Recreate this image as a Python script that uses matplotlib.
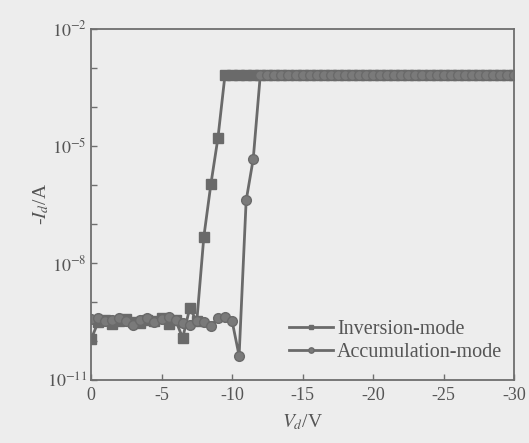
import math
import matplotlib
matplotlib.use('Agg')
import matplotlib.pyplot as plt
from matplotlib.ticker import LogLocator, FixedLocator, FuncFormatter

### drain voltage sweep (V), 0 to -30 in 0.5 V steps
vd = [0.0, -0.5, -1.0, -1.5, -2.0, -2.5, -3.0, -3.5, -4.0, -4.5,
      -5.0, -5.5, -6.0, -6.5, -7.0, -7.5, -8.0, -8.5, -9.0, -9.5,
      -10.0, -10.5, -11.0, -11.5, -12.0, -12.5, -13.0, -13.5, -14.0, -14.5,
      -15.0, -15.5, -16.0, -16.5, -17.0, -17.5, -18.0, -18.5, -19.0, -19.5,
      -20.0, -20.5, -21.0, -21.5, -22.0, -22.5, -23.0, -23.5, -24.0, -24.5,
      -25.0, -25.5, -26.0, -26.5, -27.0, -27.5, -28.0, -28.5, -29.0, -29.5,
      -30.0]

### -Id (A), inversion-mode device
id_inv = [1.1e-10, 3.0e-10, 3.4e-10, 2.8e-10, 3.3e-10, 3.6e-10, 3.1e-10, 2.9e-10, 3.5e-10, 3.2e-10,
          3.8e-10, 2.7e-10, 3.4e-10, 1.2e-10, 7.0e-10, 3.2e-10, 4.7e-8, 1.05e-6, 1.6e-5, 6.6e-4,
          6.6e-4, 6.6e-4, 6.6e-4, 6.6e-4, 6.6e-4, 6.6e-4, 6.6e-4, 6.6e-4, 6.6e-4, 6.6e-4,
          6.6e-4, 6.6e-4, 6.6e-4, 6.6e-4, 6.6e-4, 6.6e-4, 6.6e-4, 6.6e-4, 6.6e-4, 6.6e-4,
          6.6e-4, 6.6e-4, 6.6e-4, 6.6e-4, 6.6e-4, 6.6e-4, 6.6e-4, 6.6e-4, 6.6e-4, 6.6e-4,
          6.6e-4, 6.6e-4, 6.6e-4, 6.6e-4, 6.6e-4, 6.6e-4, 6.6e-4, 6.6e-4, 6.6e-4, 6.6e-4,
          6.6e-4]

### -Id (A), accumulation-mode device
id_acc = [3.6e-10, 3.9e-10, 3.2e-10, 3.5e-10, 4.0e-10, 3.3e-10, 2.6e-10, 3.4e-10, 3.8e-10, 3.0e-10,
          3.6e-10, 4.1e-10, 3.5e-10, 2.9e-10, 2.6e-10, 3.3e-10, 3.0e-10, 2.4e-10, 3.9e-10, 4.2e-10,
          3.3e-10, 4.2e-11, 4.0e-7, 4.6e-6, 6.4e-4, 6.4e-4, 6.4e-4, 6.4e-4, 6.4e-4, 6.4e-4,
          6.4e-4, 6.4e-4, 6.4e-4, 6.4e-4, 6.4e-4, 6.4e-4, 6.4e-4, 6.4e-4, 6.4e-4, 6.4e-4,
          6.4e-4, 6.4e-4, 6.4e-4, 6.4e-4, 6.4e-4, 6.4e-4, 6.4e-4, 6.4e-4, 6.4e-4, 6.4e-4,
          6.4e-4, 6.4e-4, 6.4e-4, 6.4e-4, 6.4e-4, 6.4e-4, 6.4e-4, 6.4e-4, 6.4e-4, 6.4e-4,
          6.4e-4]

xtick_vals = [0, -5, -10, -15, -20, -25, -30]
ylabel_exps = [-2, -5, -8, -11]

plt.rcParams['font.family'] = 'Liberation Serif'
plt.rcParams['mathtext.fontset'] = 'stix'

bg = '#ededed'
gray = '#6a6a6a'
axc = '#6e6e6e'
txt = '#555555'


def ylab(v, pos):
    e = int(round(math.log10(v)))
    if e in ylabel_exps:
        return r'$10^{%d}$' % e
    return ''


fig = plt.figure(figsize=(5.29, 4.43), dpi=100, facecolor=bg)
ax = fig.add_axes([0.172, 0.142, 0.800, 0.793], facecolor=bg)

ax.plot(vd, id_inv, color=gray, lw=2.0, marker='s', ms=6.5, mec=gray, mfc=gray,
        label='Inversion-mode')
ax.plot(vd, id_acc, color=gray, lw=2.0, marker='o', ms=7, mec=gray, mfc='#7a7a7a',
        label='Accumulation-mode')

ax.set_yscale('log')
ax.set_ylim(1e-11, 1e-2)
ax.set_xlim(0, -30)

ax.yaxis.set_major_locator(LogLocator(base=10, numticks=20))
ax.yaxis.set_minor_locator(FixedLocator([]))
ax.yaxis.set_major_formatter(FuncFormatter(ylab))
ax.set_xticks(xtick_vals)
ax.set_xticklabels([str(v) for v in xtick_vals])

ax.tick_params(direction='in', length=4, width=1, colors=axc, labelcolor=txt,
               labelsize=13)
ax.tick_params(axis='x', pad=5)
ax.tick_params(axis='y', pad=3)
for s in ax.spines.values():
    s.set_color(axc)
    s.set_linewidth(1.3)

ax.set_xlabel(r'$V_d$/V', fontsize=14, color=txt, labelpad=6)
ax.set_ylabel(r'-$I_d$/A', fontsize=14, color=txt, labelpad=-3)

ax.legend(loc='lower right', frameon=False, fontsize=14.5, markerscale=0.55,
          handlelength=2.2, handletextpad=0.2, labelspacing=0.2,
          bbox_to_anchor=(1.015, 0.0), labelcolor=txt)

plt.savefig('out.png', dpi=100, facecolor=bg)
